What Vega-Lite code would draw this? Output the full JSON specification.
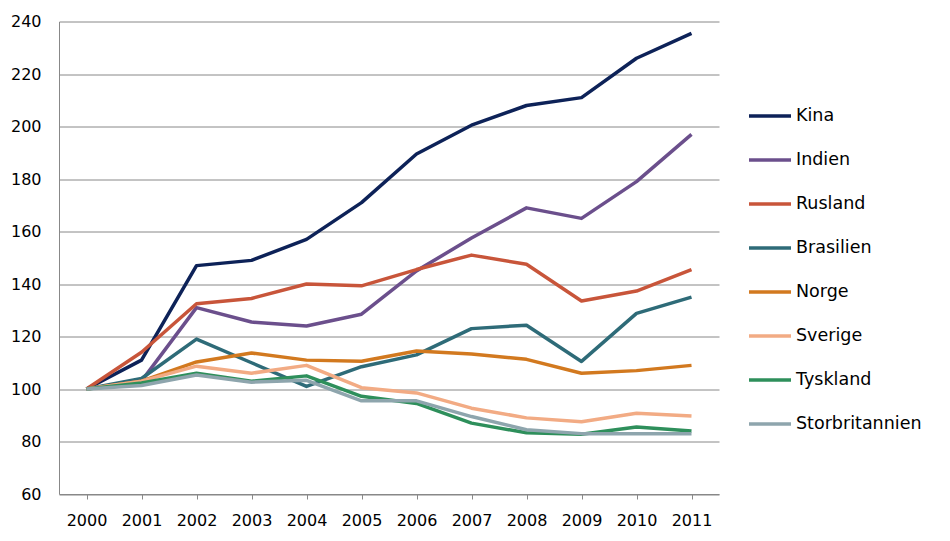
{
  "$schema": "https://vega.github.io/schema/vega-lite/v6.json",
  "width": 660,
  "height": 472.5,
  "autosize": {"type": "none"},
  "padding": {"left": 59, "top": 21.5, "right": 231, "bottom": 47},
  "background": "white",
  "config": {
    "view": {"stroke": null},
    "font": "DejaVu Sans"
  },
  "data": {
    "values": [
      {"year": "2000", "land": "Kina", "v": 100},
      {"year": "2001", "land": "Kina", "v": 111},
      {"year": "2002", "land": "Kina", "v": 147},
      {"year": "2003", "land": "Kina", "v": 149},
      {"year": "2004", "land": "Kina", "v": 157},
      {"year": "2005", "land": "Kina", "v": 171},
      {"year": "2006", "land": "Kina", "v": 189.5},
      {"year": "2007", "land": "Kina", "v": 200.5},
      {"year": "2008", "land": "Kina", "v": 208},
      {"year": "2009", "land": "Kina", "v": 211},
      {"year": "2010", "land": "Kina", "v": 226},
      {"year": "2011", "land": "Kina", "v": 235.5},
      {"year": "2000", "land": "Indien", "v": 100},
      {"year": "2001", "land": "Indien", "v": 103},
      {"year": "2002", "land": "Indien", "v": 131},
      {"year": "2003", "land": "Indien", "v": 125.5},
      {"year": "2004", "land": "Indien", "v": 124},
      {"year": "2005", "land": "Indien", "v": 128.5},
      {"year": "2006", "land": "Indien", "v": 145},
      {"year": "2007", "land": "Indien", "v": 157.5},
      {"year": "2008", "land": "Indien", "v": 169},
      {"year": "2009", "land": "Indien", "v": 165},
      {"year": "2010", "land": "Indien", "v": 179},
      {"year": "2011", "land": "Indien", "v": 197},
      {"year": "2000", "land": "Rusland", "v": 100},
      {"year": "2001", "land": "Rusland", "v": 114},
      {"year": "2002", "land": "Rusland", "v": 132.5},
      {"year": "2003", "land": "Rusland", "v": 134.5},
      {"year": "2004", "land": "Rusland", "v": 140},
      {"year": "2005", "land": "Rusland", "v": 139.3},
      {"year": "2006", "land": "Rusland", "v": 145.5},
      {"year": "2007", "land": "Rusland", "v": 151},
      {"year": "2008", "land": "Rusland", "v": 147.5},
      {"year": "2009", "land": "Rusland", "v": 133.5},
      {"year": "2010", "land": "Rusland", "v": 137.3},
      {"year": "2011", "land": "Rusland", "v": 145.5},
      {"year": "2000", "land": "Brasilien", "v": 100},
      {"year": "2001", "land": "Brasilien", "v": 104},
      {"year": "2002", "land": "Brasilien", "v": 119},
      {"year": "2003", "land": "Brasilien", "v": 110},
      {"year": "2004", "land": "Brasilien", "v": 101},
      {"year": "2005", "land": "Brasilien", "v": 108.5},
      {"year": "2006", "land": "Brasilien", "v": 113},
      {"year": "2007", "land": "Brasilien", "v": 123},
      {"year": "2008", "land": "Brasilien", "v": 124.3},
      {"year": "2009", "land": "Brasilien", "v": 110.5},
      {"year": "2010", "land": "Brasilien", "v": 128.8},
      {"year": "2011", "land": "Brasilien", "v": 135},
      {"year": "2000", "land": "Norge", "v": 100},
      {"year": "2001", "land": "Norge", "v": 103},
      {"year": "2002", "land": "Norge", "v": 110.3},
      {"year": "2003", "land": "Norge", "v": 113.7},
      {"year": "2004", "land": "Norge", "v": 111},
      {"year": "2005", "land": "Norge", "v": 110.6},
      {"year": "2006", "land": "Norge", "v": 114.5},
      {"year": "2007", "land": "Norge", "v": 113.3},
      {"year": "2008", "land": "Norge", "v": 111.3},
      {"year": "2009", "land": "Norge", "v": 106},
      {"year": "2010", "land": "Norge", "v": 107},
      {"year": "2011", "land": "Norge", "v": 109},
      {"year": "2000", "land": "Sverige", "v": 100},
      {"year": "2001", "land": "Sverige", "v": 103},
      {"year": "2002", "land": "Sverige", "v": 108.7},
      {"year": "2003", "land": "Sverige", "v": 106},
      {"year": "2004", "land": "Sverige", "v": 109},
      {"year": "2005", "land": "Sverige", "v": 100.5},
      {"year": "2006", "land": "Sverige", "v": 98.5},
      {"year": "2007", "land": "Sverige", "v": 92.7},
      {"year": "2008", "land": "Sverige", "v": 89},
      {"year": "2009", "land": "Sverige", "v": 87.5},
      {"year": "2010", "land": "Sverige", "v": 90.8},
      {"year": "2011", "land": "Sverige", "v": 89.7},
      {"year": "2000", "land": "Tyskland", "v": 100},
      {"year": "2001", "land": "Tyskland", "v": 102.3},
      {"year": "2002", "land": "Tyskland", "v": 106},
      {"year": "2003", "land": "Tyskland", "v": 103},
      {"year": "2004", "land": "Tyskland", "v": 105},
      {"year": "2005", "land": "Tyskland", "v": 97.2},
      {"year": "2006", "land": "Tyskland", "v": 94.5},
      {"year": "2007", "land": "Tyskland", "v": 87},
      {"year": "2008", "land": "Tyskland", "v": 83.3},
      {"year": "2009", "land": "Tyskland", "v": 82.8},
      {"year": "2010", "land": "Tyskland", "v": 85.5},
      {"year": "2011", "land": "Tyskland", "v": 84},
      {"year": "2000", "land": "Storbritannien", "v": 100},
      {"year": "2001", "land": "Storbritannien", "v": 101.3},
      {"year": "2002", "land": "Storbritannien", "v": 105.3},
      {"year": "2003", "land": "Storbritannien", "v": 102.6},
      {"year": "2004", "land": "Storbritannien", "v": 103.3},
      {"year": "2005", "land": "Storbritannien", "v": 95.5},
      {"year": "2006", "land": "Storbritannien", "v": 95.5},
      {"year": "2007", "land": "Storbritannien", "v": 89.5},
      {"year": "2008", "land": "Storbritannien", "v": 84.5},
      {"year": "2009", "land": "Storbritannien", "v": 83},
      {"year": "2010", "land": "Storbritannien", "v": 83},
      {"year": "2011", "land": "Storbritannien", "v": 83}
    ]
  },
  "mark": {"type": "line", "strokeWidth": 3.5, "strokeJoin": "round"},
  "encoding": {
    "x": {
      "field": "year",
      "type": "ordinal",
      "scale": {"type": "point", "padding": 0.5},
      "axis": {
        "title": null,
        "labelAngle": 0,
        "labelFontSize": 16,
        "labelColor": "#000000",
        "labelPadding": 13,
        "tickSize": 5,
        "tickColor": "#888888",
        "domainColor": "#888888",
        "domainWidth": 1,
        "grid": false
      }
    },
    "y": {
      "field": "v",
      "type": "quantitative",
      "scale": {"domain": [60, 240], "nice": false, "zero": false},
      "axis": {
        "title": null,
        "values": [60, 80, 100, 120, 140, 160, 180, 200, 220, 240],
        "labelFontSize": 16,
        "labelColor": "#000000",
        "labelPadding": 18,
        "ticks": false,
        "domainColor": "#888888",
        "grid": true,
        "gridColor": "#888888",
        "gridWidth": 1
      }
    },
    "color": {
      "field": "land",
      "type": "nominal",
      "sort": ["Kina", "Indien", "Rusland", "Brasilien", "Norge", "Sverige", "Tyskland", "Storbritannien"],
      "scale": {
        "domain": ["Kina", "Indien", "Rusland", "Brasilien", "Norge", "Sverige", "Tyskland", "Storbritannien"],
        "range": ["#0d2258", "#6b4f8c", "#c8553a", "#2e6b78", "#d2791f", "#f2ab84", "#2e8f5b", "#8ea5ad"]
      },
      "legend": {
        "title": null,
        "orient": "none",
        "legendX": 688,
        "legendY": 71.5,
        "padding": 0,
        "symbolType": "stroke",
        "symbolSize": 1764,
        "symbolStrokeWidth": 3.5,
        "labelFontSize": 17.5,
        "labelColor": "#000000",
        "labelOffset": 3,
        "rowPadding": 12,
        "labelLimit": 300
      }
    }
  }
}
